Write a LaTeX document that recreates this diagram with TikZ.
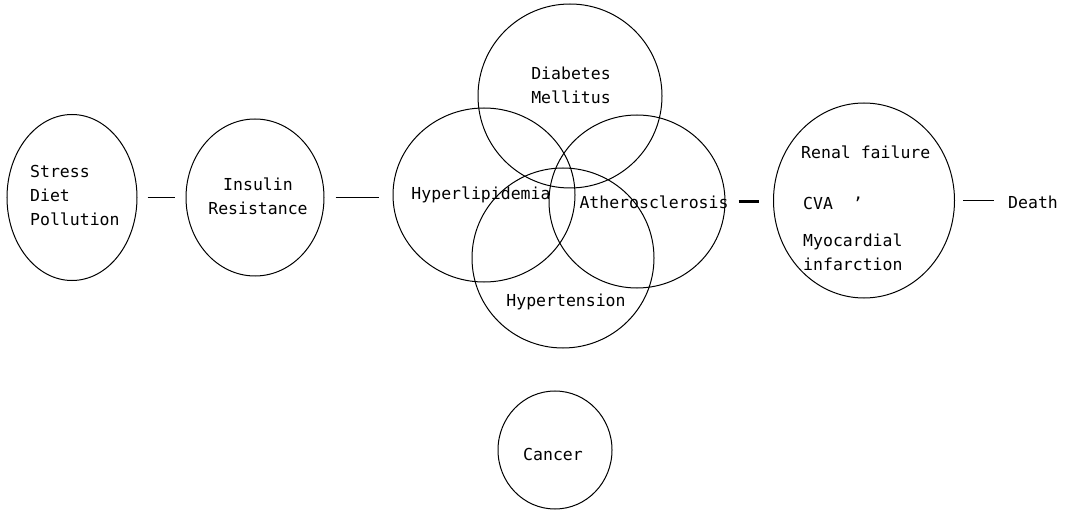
\documentclass[tikz,border=0pt]{standalone}
\usepackage{fontspec}
\newfontfamily\plotfont{DejaVu Sans Mono}
\usetikzlibrary{shapes.geometric}
\begin{document}
\begin{tikzpicture}[x=1bp,y=-1bp,
  oval/.style={ellipse, draw, line width=1bp, inner sep=0pt},
  lbl/.style={inner sep=0pt, font=\plotfont\fontsize{16.5bp}{24bp}\selectfont},
  link/.style={line width=1.1bp},
  thicklink/.style={line width=2.8bp}]
\useasboundingbox (0,0) rectangle (1072,510);
% ovals
\node[oval, minimum width=130bp, minimum height=166bp] (stress) at (72,197.5) {};
\node[oval, minimum width=138bp, minimum height=157bp] (insulin) at (255,197.5) {};
\node[oval, minimum width=182bp, minimum height=174bp] (hyper) at (484,195) {};
\node[oval, minimum width=184bp, minimum height=184bp] (diab) at (570,96) {};
\node[oval, minimum width=176bp, minimum height=173bp] (athero) at (637,201.5) {};
\node[oval, minimum width=182bp, minimum height=180bp] (htn) at (563,258) {};
\node[oval, minimum width=181bp, minimum height=195bp] (renal) at (864,200.5) {};
\node[oval, minimum width=114bp, minimum height=118bp] (cancer) at (555,450) {};
% labels
\node[lbl, anchor=west, align=left] (tstress) at (30,195) {Stress\\Diet\\Pollution};
\node[lbl, align=center] (tinsulin) at (258,196) {Insulin\\Resistance};
\node[lbl, align=left] (tdiab) at (571,85) {Diabetes\\Mellitus};
\node[lbl] (thyper) at (481,195) {Hyperlipidemia};
\node[lbl] (tathero) at (654,202) {Atherosclerosis};
\node[lbl] (thtn) at (566,302) {Hypertension};
\node[lbl, anchor=west] (trenal) at (801,152) {Renal failure};
\node[lbl, anchor=west] (tcva) at (803,203) {CVA\ \ ’};
\node[lbl, anchor=west, align=left] (tmi) at (803,252) {Myocardial\\infarction};
\node[lbl, anchor=west] (death) at (1008,202) {Death};
\node[lbl] (tcancer) at (553,454) {Cancer};
% connectors
\draw[link, shorten <=10bp, shorten >=11bp] (stress.east) -- (stress.east -| insulin.west);
\draw[link, shorten <=11bp, shorten >=14bp] (insulin.east) -- (insulin.east -| hyper.west);
\draw[thicklink, shorten <=13bp, shorten >=14bp] (athero.east) -- (athero.east -| renal.west);
\draw[link, shorten <=8bp, shorten >=14bp] (renal.east) -- (renal.east -| death.west);
\end{tikzpicture}
\end{document}
